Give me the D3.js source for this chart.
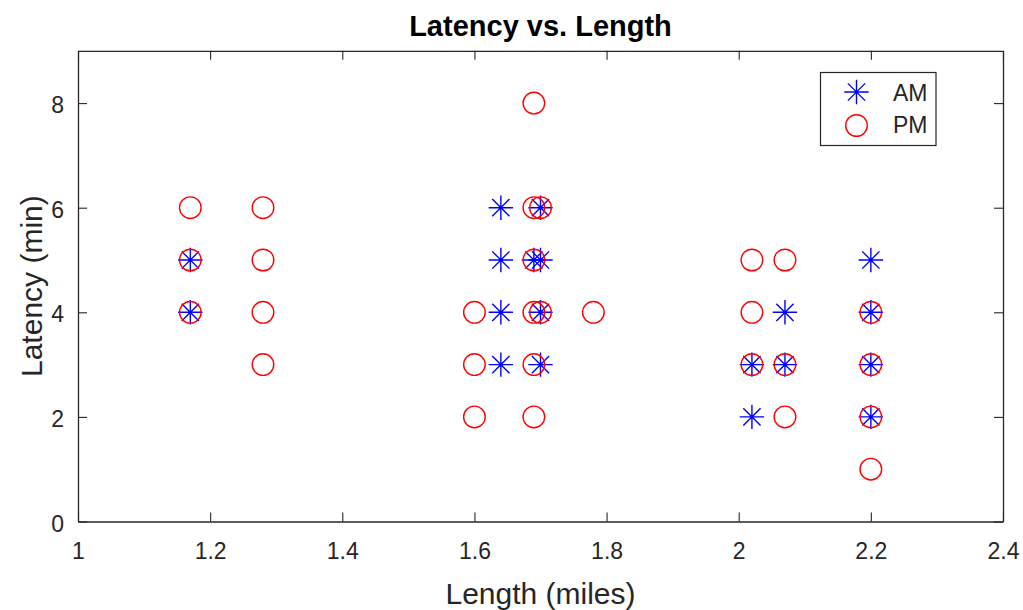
<!DOCTYPE html>
<html><head><meta charset="utf-8">
<script src="https://cdn.jsdelivr.net/npm/d3@7"></script>
<style>body{margin:0;background:#fff}svg{display:block;font-family:"Liberation Sans",Arial,sans-serif}</style>
</head><body><svg id="c" width="1023" height="610"></svg>
<script>
const amLength = [1.17,1.17, 1.64,1.64,1.64,1.64, 1.69, 1.70,1.70,1.70,1.70, 2.02,2.02, 2.07,2.07, 2.20,2.20,2.20,2.20];
const amLatency = [5,4, 6,5,4,3, 5, 6,5,4,3, 3,2, 4,3, 5,4,3,2];
const pmLength = [1.17,1.17,1.17, 1.28,1.28,1.28,1.28, 1.60,1.60,1.60, 1.69,1.69,1.69,1.69,1.69,1.69, 1.70,1.70, 1.78, 2.02,2.02,2.02, 2.07,2.07,2.07, 2.20,2.20,2.20,2.20];
const pmLatency = [6,5,4, 6,5,4,3, 4,3,2, 8,6,5,4,3,2, 6,4, 4, 5,4,3, 5,3,2, 4,3,2,1];
const xTicks = [1,1.2,1.4,1.6,1.8,2,2.2,2.4];
const yTicks = [0,2,4,6,8];
const seriesNames = ["AM","PM"];

const L=78, R=1003, T=50.8, B=521.5;
const svg = d3.select("#c");
const x = d3.scaleLinear().domain([1,2.4]).range([L,R]);
const y = d3.scaleLinear().domain([0,9]).range([B,T]);
const axCol = "#262626";
const tickFont = "23px";

const fmt = d => String(d);
const gx = svg.append("g").attr("transform",`translate(0,${B})`)
  .call(d3.axisBottom(x).tickValues(xTicks).tickFormat(fmt).tickSizeInner(-9).tickSizeOuter(0).tickPadding(21));
const gxt = svg.append("g").attr("transform",`translate(0,${T})`)
  .call(d3.axisTop(x).tickValues(xTicks).tickFormat("").tickSizeInner(-9).tickSizeOuter(0));
const gy = svg.append("g").attr("transform",`translate(${L},0)`)
  .call(d3.axisLeft(y).tickValues(yTicks).tickFormat(fmt).tickSizeInner(-9).tickSizeOuter(0).tickPadding(14));
const gyr = svg.append("g").attr("transform",`translate(${R},0)`)
  .call(d3.axisRight(y).tickValues(yTicks).tickFormat("").tickSizeInner(-9).tickSizeOuter(0));
[gx,gxt,gy,gyr].forEach(g=>{
  g.select(".domain").attr("stroke",axCol).attr("stroke-width",1.3);
  g.selectAll(".tick line").attr("stroke",axCol).attr("stroke-width",1.1);
  g.selectAll("text").attr("fill",axCol).style("font-size",tickFont).style("font-family",'"Liberation Sans",Arial,sans-serif');
});
gy.selectAll("text").attr("dy","0.42em");

function star(g, cx, cy, s){
  const r=s, d=s*0.7071;
  const p = `M${cx-r},${cy}L${cx+r},${cy}M${cx},${cy-r}L${cx},${cy+r}M${cx-d},${cy-d}L${cx+d},${cy+d}M${cx-d},${cy+d}L${cx+d},${cy-d}`;
  g.append("path").attr("d",p).attr("stroke","#0000ff").attr("stroke-width",1.4).attr("fill","none");
}
function circ(g, cx, cy){
  g.append("circle").attr("cx",cx).attr("cy",cy).attr("r",10.8).attr("fill","none").attr("stroke","#ff0000").attr("stroke-width",1.4);
}
const gm = svg.append("g");
amLength.forEach((v,i)=>star(gm, x(v), y(amLatency[i]), 12.2));
pmLength.forEach((v,i)=>circ(gm, x(v), y(pmLatency[i])));

svg.append("text").attr("x",(L+R)/2).attr("y",36).attr("text-anchor","middle")
  .style("font-weight","bold").style("font-size","29px").attr("fill","#000").text("Latency vs. Length");
svg.append("text").attr("x",(L+R)/2).attr("y",604).attr("text-anchor","middle")
  .style("font-size","30px").attr("fill",axCol).text("Length (miles)");
svg.append("text").attr("transform",`translate(42,${(T+B)/2}) rotate(-90)`).attr("text-anchor","middle")
  .style("font-size","30px").attr("fill",axCol).text("Latency (min)");

const lg = svg.append("g");
lg.append("rect").attr("x",820.5).attr("y",72.5).attr("width",115.5).attr("height",73).attr("fill","#fff").attr("stroke",axCol).attr("stroke-width",1.2);
star(lg, 856.5, 92, 12.2);
circ(lg, 856.5, 125.5);
lg.append("text").attr("x",893).attr("y",101).style("font-size",tickFont).attr("fill",axCol).text(seriesNames[0]);
lg.append("text").attr("x",893).attr("y",133).style("font-size",tickFont).attr("fill",axCol).text(seriesNames[1]);
</script></body></html>
